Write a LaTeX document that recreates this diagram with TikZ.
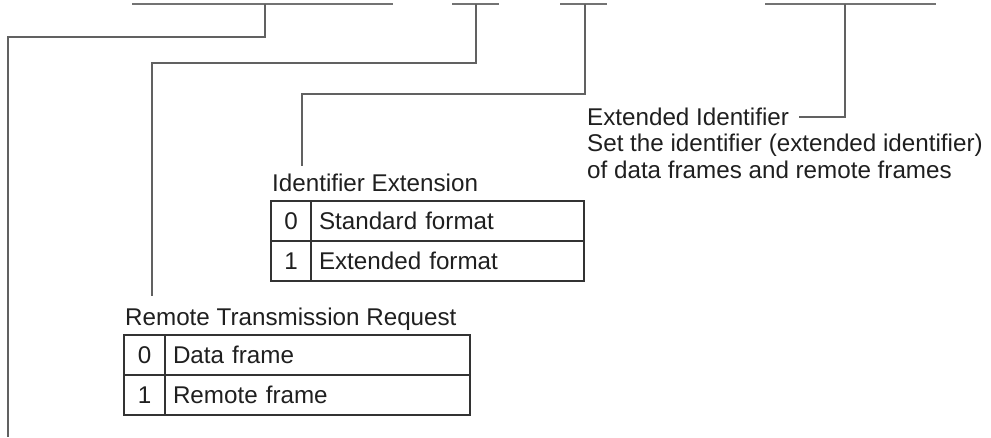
\documentclass[tikz,border=0pt]{standalone}
\usepackage{fontspec}
\setmainfont{Liberation Sans}
\begin{document}
\begin{tikzpicture}[x=1pt,y=-1pt,
  bar/.style={draw=black!55, line width=1.3pt},
  conn/.style={draw=black!62, line width=1.2pt},
  lbl/.style={inner sep=0pt, anchor=base west, text=black!88, font=\fontsize{24.2}{27}\selectfont},
  cell/.style={draw=black!80, line width=1.1pt, minimum height=40pt, inner sep=0pt, outer sep=0pt,
    anchor=north west, text=black!88, font=\fontsize{24.2}{27}\selectfont},
  numcell/.style={cell, minimum width=#1},
  txtcell/.style={cell, minimum width=#1, text width=#1-16pt, inner xsep=8pt, align=left}]
\useasboundingbox (0,0) rectangle (991,437);

% top bars
\coordinate (b1l) at (132,4); \coordinate (b1r) at (393,4); \coordinate (b1m) at (265,4);
\coordinate (b2l) at (452,4); \coordinate (b2r) at (499,4); \coordinate (b2m) at (476,4);
\coordinate (b3l) at (560,4); \coordinate (b3r) at (607,4); \coordinate (b3m) at (585,4);
\coordinate (b4l) at (765,4); \coordinate (b4r) at (936,4); \coordinate (b4m) at (845,4);
\draw[bar] (b1l) -- (b1r);
\draw[bar] (b2l) -- (b2r);
\draw[bar] (b3l) -- (b3r);
\draw[bar] (b4l) -- (b4r);

% labels
\node[lbl] (ide) at (272,191) {Identifier Extension};
\node[lbl] (rtr) at (125,325) {Remote Transmission Request};
\node[lbl] (ext) at (587,125) {Extended Identifier};
\node[lbl] (extd1) at (587,151.5) {Set the identifier (extended identifier)};
\node[lbl] (extd2) at (587,178) {of data frames and remote frames};

% Identifier Extension table
\node[numcell=40pt] (i0n) at (271,201) {0};
\node[txtcell=273pt] (i0t) at (i0n.north east) {Standard format};
\node[numcell=40pt] (i1n) at (i0n.south west) {1};
\node[txtcell=273pt] (i1t) at (i1n.north east) {Extended format};

% Remote Transmission Request table
\node[numcell=41pt] (r0n) at (124,335) {0};
\node[txtcell=305pt] (r0t) at (r0n.north east) {Data frame};
\node[numcell=41pt] (r1n) at (r0n.south west) {1};
\node[txtcell=305pt] (r1t) at (r1n.north east) {Remote frame};

% connectors
\coordinate (k1) at (8,37);   \coordinate (e1) at (8,437);
\coordinate (k2) at (152,63); \coordinate (e2) at (152,296);
\coordinate (k3) at (302,94); \coordinate (e3) at (302,166);
\coordinate (e4) at (799,117);
\draw[conn] (b1m) |- (k1) -- (e1);
\draw[conn] (b2m) |- (k2) -- (e2);
\draw[conn] (b3m) |- (k3) -- (e3);
\draw[conn] (b4m) |- (e4);
\end{tikzpicture}
\end{document}
